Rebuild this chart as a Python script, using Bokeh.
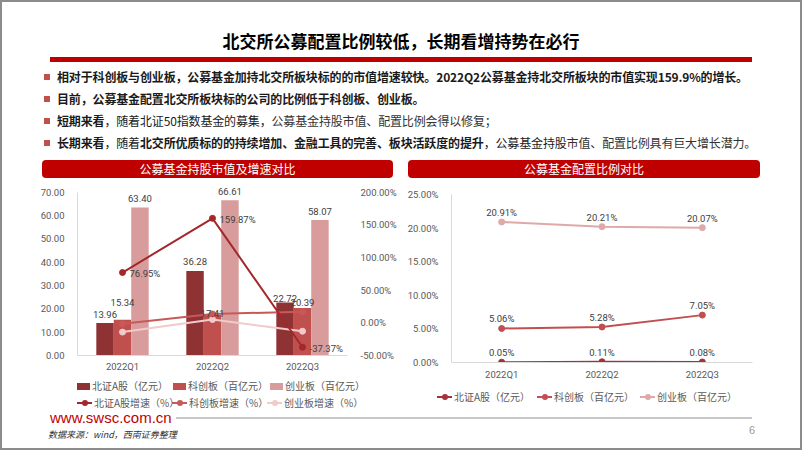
from bokeh.plotting import figure
from bokeh.models import (ColumnDataSource, FactorRange, Range1d, LinearAxis,
                          PrintfTickFormatter, SingleIntervalTicker, Div)
from bokeh.layouts import column, row
from bokeh.transform import dodge
from bokeh.core.properties import value
from bokeh.embed import file_html
from bokeh.resources import INLINE

# ---------------- data ----------------
quarters = ["2022Q1", "2022Q2", "2022Q3"]
bj_mv = [13.96, 36.28, 22.72]          # 北证A股（亿元）
kc_mv = [15.34, 17.41, 20.39]          # 科创板（百亿元）
cy_mv = [63.40, 66.61, 58.07]          # 创业板（百亿元）
bj_growth = [76.95, 159.87, -37.37]    # 北证A股增速（%）
kc_growth = [-1.5, 13.49, 17.12]       # 科创板增速（%）
cy_growth = [-14.2, 5.06, -12.82]      # 创业板增速（%）
bj_ratio = [0.05, 0.11, 0.08]          # 配置比例 北证A股
kc_ratio = [5.06, 5.28, 7.05]          # 配置比例 科创板
cy_ratio = [20.91, 20.21, 20.07]       # 配置比例 创业板

title_text = "北交所公募配置比例较低，长期看增持势在必行"
left_title = "公募基金持股市值及增速对比"
right_title = "公募基金配置比例对比"
bar_names = ["北证A股（亿元）", "科创板（百亿元）", "创业板（百亿元）"]
growth_names = ["北证A股增速（%）", "科创板增速（%）", "创业板增速（%）"]

# label lift above bar tops (screen px, style only)
bj_lift = [8, 9, 4]
kc_lift = [17, 1, 5]
cy_lift = [9, 9, 9]

# ---------------- styles ----------------
CJK = "Noto Sans CJK SC"
NUM = "Roboto"
DARK, MED, LIGHT = "#8E3234", "#C0504D", "#D99C9C"
L_DARK, L_MED, L_LIGHT = "#A3282C", "#C9585A", "#F2CACA"
R_DARK, R_MED, R_LIGHT = "#A8303A", "#C24E52", "#DFA9A9"
AX = "#D9D9D9"
TXT = "#595959"
LBL = "#404040"
FRAME = "#8C8C8C"

# ---------------- top text ----------------
def bullet(top, html):
    return (f"<div style='position:absolute;left:44px;top:{top+6}px;width:6px;height:6px;background:#C0504D;'></div>"
            f"<div style='position:absolute;left:57px;top:{top}px;line-height:18px;height:18px;white-space:nowrap;"
            f"font-size:12px;letter-spacing:-0.15px;color:#1a1a1a;'>{html}</div>")

B = "<b>"
EB = "</b>"
top_html = (
    f"<div style=\"position:relative;width:802px;height:156px;font-family:'{CJK}',sans-serif;\">"
    f"<div style='position:absolute;left:0;top:0;width:802px;height:2px;background:{FRAME};'></div>"
    f"<div style='position:absolute;left:0;top:0;width:2px;height:156px;background:{FRAME};'></div>"
    f"<div style='position:absolute;left:800px;top:0;width:2px;height:156px;background:{FRAME};'></div>"
    f"<div style='position:absolute;left:0;top:30px;width:802px;text-align:center;font-size:17px;"
    f"font-weight:bold;color:#000;line-height:22px;'>{title_text}</div>"
    "<div style='position:absolute;left:50px;top:57px;width:702px;height:5px;background:#C00000;'></div>"
    + bullet(68, B + "相对于科创板与创业板，公募基金加持北交所板块标的的市值增速较快。2022Q2公募基金持北交所板块的市值实现159.9%的增长。" + EB)
    + bullet(90, B + "目前，公募基金配置北交所板块标的公司的比例低于科创板、创业板。" + EB)
    + bullet(112, B + "短期来看" + EB + "，随着北证50指数基金的募集，<span style='color:#333'>公募基金持股市值、配置比例会得以修复；</span>")
    + bullet(134, B + "长期来看" + EB + "，随着" + B + "北交所优质标的的持续增加、金融工具的完善、板块活跃度的提升" + EB
             + "，公募基金持股<span style='color:#333'>市值、配置比例具有巨大增长潜力。</span>")
    + "</div>"
)
top_div = Div(text=top_html, width=802, height=156, margin=0)


def banner(text, width, left, bw):
    html = (f"<div style='position:relative;width:{width}px;height:24px;'>"
            f"<div style=\"position:absolute;left:{left}px;top:4px;width:{bw}px;height:18px;background:#C00000;"
            f"border-radius:4px;color:#fff;font-size:12px;line-height:18px;text-align:center;"
            f"font-family:'{CJK}',sans-serif;\">{text}</div></div>")
    return Div(text=html, width=width, height=24, margin=0)


def vline(h):
    return Div(text=f"<div style='width:2px;height:{h}px;background:{FRAME};'></div>",
               width=2, height=h, margin=0)


def key_box(x, cy, color, label):
    return (f"<div style='position:absolute;left:{x}px;top:{cy-3.5}px;width:13px;height:7px;background:{color};'></div>"
            f"<div style='position:absolute;left:{x+15}px;top:{cy-6}px;line-height:12px;white-space:nowrap;'>{label}</div>")


def key_line(x, cy, color, label):
    return (f"<div style='position:absolute;left:{x}px;top:{cy-1}px;width:15px;height:2px;background:{color};'></div>"
            f"<div style='position:absolute;left:{x+4.5}px;top:{cy-3}px;width:6px;height:6px;border-radius:3px;background:{color};'></div>"
            f"<div style='position:absolute;left:{x+17}px;top:{cy-6}px;line-height:12px;white-space:nowrap;'>{label}</div>")


def legend_div(width, height, inner):
    html = (f"<div style=\"position:relative;width:{width}px;height:{height}px;font-family:'{CJK}',sans-serif;"
            f"font-size:10px;color:{TXT};\">{inner}</div>")
    return Div(text=html, width=width, height=height, margin=0)


# ---------------- left chart ----------------
src = ColumnDataSource(dict(
    q=quarters, bj=bj_mv, kc=kc_mv, cy=cy_mv,
    bjg=bj_growth, kcg=kc_growth, cyg=cy_growth,
    bj_t=[f"{v:.2f}" for v in bj_mv], kc_t=[f"{v:.2f}" for v in kc_mv],
    cy_t=[f"{v:.2f}" for v in cy_mv], bjg_t=[f"{v:.2f}%" for v in bj_growth],
    bj_dy=[-d for d in bj_lift], kc_dy=[-d for d in kc_lift], cy_dy=[-d for d in cy_lift],
))

# frame extends a little above the 70 tick so that top labels are not clipped
p1 = figure(x_range=FactorRange(*quarters), y_range=Range1d(0, 74.6),
            width=402, height=200, output_backend="svg", toolbar_location=None,
            min_border_left=75, min_border_right=57, min_border_top=1, min_border_bottom=25,
            background_fill_color="white", border_fill_color="white", outline_line_color=None)
p1.extra_y_ranges = {"g": Range1d(-50, 216.2)}
w = 0.194
p1.vbar(x=dodge("q", -w, range=p1.x_range), top="bj", width=w, source=src,
        fill_color=DARK, line_color=None)
p1.vbar(x=dodge("q", 0, range=p1.x_range), top="kc", width=w, source=src,
        fill_color=MED, line_color=None)
p1.vbar(x=dodge("q", w, range=p1.x_range), top="cy", width=w, source=src,
        fill_color=LIGHT, line_color=None)

for col, c in (("cyg", L_LIGHT), ("kcg", L_MED), ("bjg", L_DARK)):
    p1.line(x="q", y=col, source=src, y_range_name="g", line_color=c, line_width=2)
    p1.scatter(x="q", y=col, source=src, y_range_name="g", marker="circle", size=6,
               fill_color=c, line_color=c)

lab = dict(source=src, text_align="center", text_baseline="middle",
           text_font=value(NUM), text_font_size="9.5px", text_color=LBL)
p1.text(x=dodge("q", -w, range=p1.x_range), y="bj", text="bj_t", y_offset="bj_dy", **lab)
p1.text(x=dodge("q", 0, range=p1.x_range), y="kc", text="kc_t", y_offset="kc_dy", **lab)
p1.text(x=dodge("q", w, range=p1.x_range), y="cy", text="cy_t", y_offset="cy_dy", **lab)
p1.text(x="q", y="bjg", text="bjg_t", source=src, y_range_name="g", x_offset=7, y_offset=1,
        text_align="left", text_baseline="middle", text_font=value(NUM),
        text_font_size="9.5px", text_color=LBL)

ax_r = LinearAxis(y_range_name="g", ticker=SingleIntervalTicker(interval=50),
                  formatter=PrintfTickFormatter(format="%.2f%%"))
p1.add_layout(ax_r, "right")
p1.yaxis[0].ticker = SingleIntervalTicker(interval=10)
p1.yaxis[0].formatter = PrintfTickFormatter(format="%.2f")
p1.yaxis[0].bounds = (0, 70)

for ax in p1.yaxis:
    ax.major_tick_line_color = None
    ax.minor_tick_line_color = None
    ax.major_label_text_font = NUM
    ax.major_label_text_font_size = "9.5px"
    ax.major_label_text_color = TXT
    ax.major_label_standoff = 7
p1.yaxis[0].axis_line_color = AX
ax_r.axis_line_color = None
p1.xaxis.axis_line_color = AX
p1.xaxis.major_tick_line_color = None
p1.xaxis.major_label_text_font = NUM
p1.xaxis.major_label_text_font_size = "9.5px"
p1.xaxis.major_label_text_color = TXT
p1.xaxis.major_label_standoff = -1
p1.xgrid.visible = False
p1.ygrid.visible = False

leg1 = legend_div(402, 32,
    key_box(75, 6, DARK, bar_names[0]) + key_box(171, 6, MED, bar_names[1]) + key_box(268, 6, LIGHT, bar_names[2])
    + key_line(75, 23, L_DARK, growth_names[0]) + key_line(170, 23, L_MED, growth_names[1])
    + key_line(265, 23, L_LIGHT, growth_names[2]))

# ---------------- right chart ----------------
src2 = ColumnDataSource(dict(
    q=quarters, bj=bj_ratio, kc=kc_ratio, cy=cy_ratio,
    bj_t=[f"{v:.2f}%" for v in bj_ratio], kc_t=[f"{v:.2f}%" for v in kc_ratio],
    cy_t=[f"{v:.2f}%" for v in cy_ratio],
))
p2 = figure(x_range=FactorRange(*quarters), y_range=Range1d(0, 25),
            width=396, height=204, output_backend="svg", toolbar_location=None,
            min_border_left=45, min_border_right=48, min_border_top=14, min_border_bottom=22,
            background_fill_color="white", border_fill_color="white", outline_line_color=None)
for col, c in (("cy", R_LIGHT), ("kc", R_MED), ("bj", R_DARK)):
    p2.line(x="q", y=col, source=src2, line_color=c, line_width=2)
    p2.scatter(x="q", y=col, source=src2, marker="circle", size=6, fill_color=c, line_color=c)
for col in ("cy", "kc", "bj"):
    p2.text(x="q", y=col, text=col + "_t", source=src2, text_align="center", text_baseline="bottom",
            y_offset=-4, text_font=value(NUM), text_font_size="9.5px", text_color=LBL)
p2.yaxis.ticker = SingleIntervalTicker(interval=5)
p2.yaxis.formatter = PrintfTickFormatter(format="%.2f%%")
for ax in (p2.xaxis[0], p2.yaxis[0]):
    ax.axis_line_color = AX
    ax.major_tick_line_color = None
    ax.minor_tick_line_color = None
    ax.major_label_text_font = NUM
    ax.major_label_text_font_size = "9.5px"
    ax.major_label_text_color = TXT
p2.yaxis.major_label_standoff = 7
p2.xaxis.major_label_standoff = 0
p2.xgrid.visible = False
p2.ygrid.visible = False

leg2 = legend_div(396, 28,
    key_line(33, 13, R_DARK, bar_names[0]) + key_line(133, 13, R_MED, bar_names[1])
    + key_line(236, 13, R_LIGHT, bar_names[2]))

# ---------------- footer ----------------
foot_html = (
    f"<div style=\"position:relative;width:802px;height:39px;font-family:'{CJK}',sans-serif;\">"
    f"<div style='position:absolute;left:0;top:0;width:2px;height:37px;background:{FRAME};'></div>"
    f"<div style='position:absolute;left:800px;top:0;width:2px;height:37px;background:{FRAME};'></div>"
    f"<div style='position:absolute;left:0;top:36px;width:802px;height:2px;background:{FRAME};'></div>"
    "<div style=\"position:absolute;left:50px;top:0px;line-height:12px;font-size:15px;color:#C00000;"
    "font-family:'Liberation Sans',Arial,sans-serif;white-space:nowrap;\">www.swsc.com.cn</div>"
    "<div style='position:absolute;left:176px;top:5px;width:576px;height:2px;background:#C8C8C8;'></div>"
    "<div style='position:absolute;left:48px;top:17px;line-height:12px;font-size:9px;font-style:italic;"
    "color:#333;white-space:nowrap;'>数据来源：wind，西南证券整理</div>"
    "<div style=\"position:absolute;left:749px;top:12px;line-height:12px;font-size:11px;color:#999;"
    "font-family:'Liberation Sans',sans-serif;\">6</div>"
    "</div>"
)
foot_div = Div(text=foot_html, width=802, height=39, margin=0)

layout = column(
    top_div,
    row(vline(256),
        column(banner(left_title, 402, 40, 351), p1, leg1),
        column(banner(right_title, 396, 4, 352), p2, leg2),
        vline(256)),
    foot_div,
)

open("out.html", "w").write(file_html(layout, INLINE))
